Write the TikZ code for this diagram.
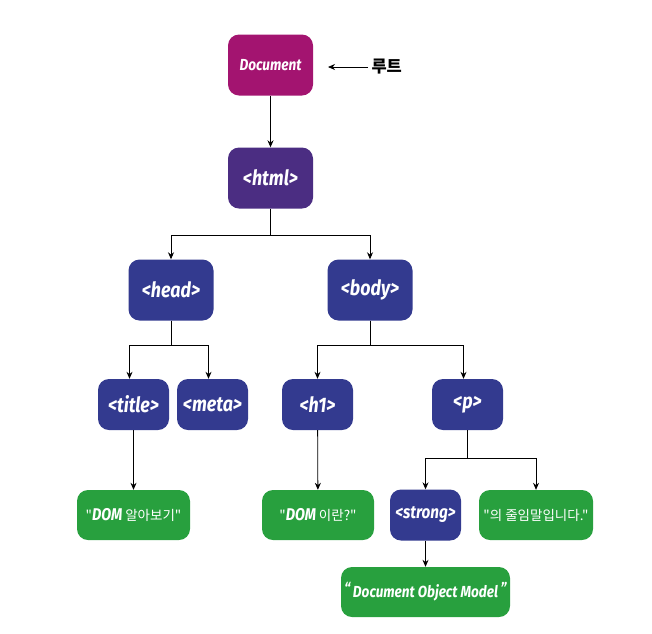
\documentclass[tikz,border=0pt]{standalone}
\usepackage{fontspec}
\setmainfont{Fira Sans}
\newfontfamily\cond[FakeStretch=0.85]{Fira Sans}
\newfontfamily\kr{Noto Sans CJK KR}
\usetikzlibrary{arrows.meta}
\definecolor{docc}{RGB}{163,20,112}
\definecolor{htmlc}{RGB}{75,45,130}
\definecolor{tagc}{RGB}{51,58,143}
\definecolor{txtc}{RGB}{40,160,62}
\tikzset{
  box/.style={rounded corners=11pt, text=white, inner sep=0pt, minimum width=85pt, minimum height=61pt, font=\cond\bfseries\itshape\fontsize{21}{21}\selectfont},
  small/.style={box, minimum width=71pt, minimum height=51pt},
  leaf/.style={box, fill=txtc, minimum height=50pt, font=\kr\fontsize{13.5}{13.5}\selectfont},
  conn/.style={-{Stealth[length=7pt,width=6pt]}, line width=0.8pt, black},
}
\newcommand{\cf}[1]{{\cond\bfseries\itshape #1}}
\begin{document}
\begin{tikzpicture}[x=1pt,y=-1pt]
\useasboundingbox (0,0) rectangle (652,633);
\node[box, fill=docc, font=\cond\bfseries\itshape\fontsize{16}{16}\selectfont] (doc) at (270.5,65) {Document};
\node[font=\kr\bfseries\fontsize{16.5}{16.5}\selectfont, anchor=west] (root) at (368,67) {루트};
\node[box, fill=htmlc] (html) at (270.5,178) {<html>};
\node[box, fill=tagc] (head) at (171,290) {<head>};
\node[box, fill=tagc] (body) at (370,290) {<body>};
\node[small, fill=tagc] (title) at (133.5,404.5) {<title>};
\node[small, fill=tagc] (meta) at (212.5,404.5) {<meta>};
\node[small, fill=tagc] (h1) at (317.5,404.5) {<h1>};
\node[small, fill=tagc] (p) at (467.5,404.5) {<p>};
\node[leaf, minimum width=113pt] (t1) at (133.5,515) {"\cf{\fontsize{17}{17}\selectfont DOM} 알아보기"};
\node[leaf, minimum width=112pt] (t2) at (318,515) {"\cf{\fontsize{17}{17}\selectfont DOM} 이란?"};
\node[small, fill=tagc, font=\cond\bfseries\itshape\fontsize{18}{18}\selectfont] (strong) at (425.5,515) {<strong>};
\node[leaf, minimum width=114pt] (t3) at (536,515) {"의 줄임말입니다."};
\node[leaf, minimum width=169pt, font=\cond\bfseries\itshape\fontsize{16}{16}\selectfont] (t4) at (425.5,592) {\raisebox{3pt}{“}\,Document Object Model\,\raisebox{3pt}{”}};
\draw[conn] (root.west) -- ++(-40,0) coordinate (rootend);
\draw[conn] (doc) -- (html);
\draw[conn] (html.south) -- ++(0,27) -| (head.north);
\draw[conn] (html.south) -- ++(0,27) -| (body.north);
\draw[conn] (head.south) -- ++(0,25) -| ([xshift=-4pt]title.north);
\draw[conn] (head.south) -- ++(0,25) -| ([xshift=-4pt]meta.north);
\draw[conn] (body.south) -- ++(0,25) -| (h1.north);
\draw[conn] (body.south) -- ++(0,25) -| ([xshift=-4pt]p.north);
\draw[conn] (title) -- (t1);
\draw[conn] (h1) -- (t2);
\draw[conn] (p.south) -- ++(0,28) -| (strong.north);
\draw[conn] (p.south) -- ++(0,28) -| (t3.north);
\draw[conn] (strong) -- (t4);
\end{tikzpicture}
\end{document}
